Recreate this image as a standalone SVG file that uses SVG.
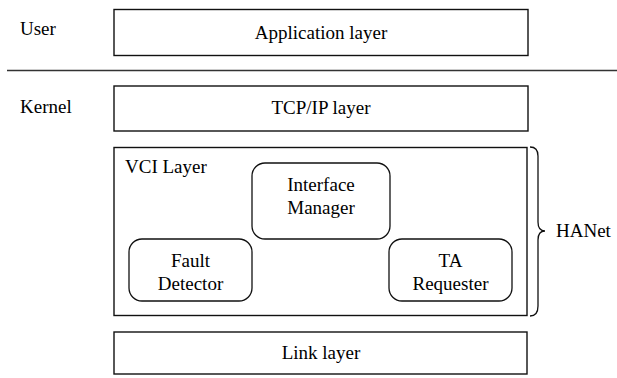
<svg xmlns="http://www.w3.org/2000/svg" width="617" height="378" viewBox="0 0 617 378">
  <rect width="617" height="378" fill="#ffffff"/>

  <!-- user / kernel space labels and boundary -->
  <text x="20" y="35" font-family="Liberation Serif" font-size="19">User</text>
  <line x1="7" y1="70.5" x2="617" y2="70.5" stroke="#333333" stroke-width="1.6"/>
  <text x="20" y="113" font-family="Liberation Serif" font-size="19">Kernel</text>

  <g id="application-layer">
    <rect x="114" y="9.5" width="414" height="46" fill="#ffffff" stroke="#111111" stroke-width="1.4"/>
    <text x="321" y="39" text-anchor="middle" font-family="Liberation Serif" font-size="19">Application layer</text>
  </g>

  <g id="tcpip-layer">
    <rect x="114" y="86" width="414" height="45" fill="#ffffff" stroke="#111111" stroke-width="1.4"/>
    <text x="321" y="114" text-anchor="middle" font-family="Liberation Serif" font-size="19">TCP/IP layer</text>
  </g>

  <g id="vci-layer">
    <rect x="114" y="147.5" width="413" height="168" fill="#ffffff" stroke="#111111" stroke-width="1.4"/>
    <text x="125" y="173" font-family="Liberation Serif" font-size="19">VCI Layer</text>
  </g>

  <g id="interface-manager">
    <rect x="252" y="163" width="138" height="76" rx="13" fill="#ffffff" stroke="#111111" stroke-width="1.3"/>
    <text x="321" y="191" text-anchor="middle" font-family="Liberation Serif" font-size="19">Interface</text>
    <text x="321" y="214" text-anchor="middle" font-family="Liberation Serif" font-size="19">Manager</text>
  </g>

  <g id="fault-detector">
    <rect x="129" y="239" width="123" height="62" rx="13" fill="#ffffff" stroke="#111111" stroke-width="1.3"/>
    <text x="190.5" y="267" text-anchor="middle" font-family="Liberation Serif" font-size="19">Fault</text>
    <text x="190.5" y="290" text-anchor="middle" font-family="Liberation Serif" font-size="19">Detector</text>
  </g>

  <g id="ta-requester">
    <rect x="389" y="239" width="123" height="62" rx="13" fill="#ffffff" stroke="#111111" stroke-width="1.3"/>
    <text x="450.5" y="267" text-anchor="middle" font-family="Liberation Serif" font-size="19">TA</text>
    <text x="450.5" y="290" text-anchor="middle" font-family="Liberation Serif" font-size="19">Requester</text>
  </g>

  <g id="link-layer">
    <rect x="114" y="332" width="413" height="42" fill="#ffffff" stroke="#111111" stroke-width="1.4"/>
    <text x="321" y="359" text-anchor="middle" font-family="Liberation Serif" font-size="19">Link layer</text>
  </g>

  <g id="hanet">
    <path d="M530,147 Q538,147 538,156 L538,222 Q538,231 545,231 Q538,231 538,240 L538,306 Q538,316 530,316" fill="none" stroke="#111111" stroke-width="1.3"/>
    <text x="556" y="237" font-family="Liberation Serif" font-size="19">HANet</text>
  </g>
</svg>
